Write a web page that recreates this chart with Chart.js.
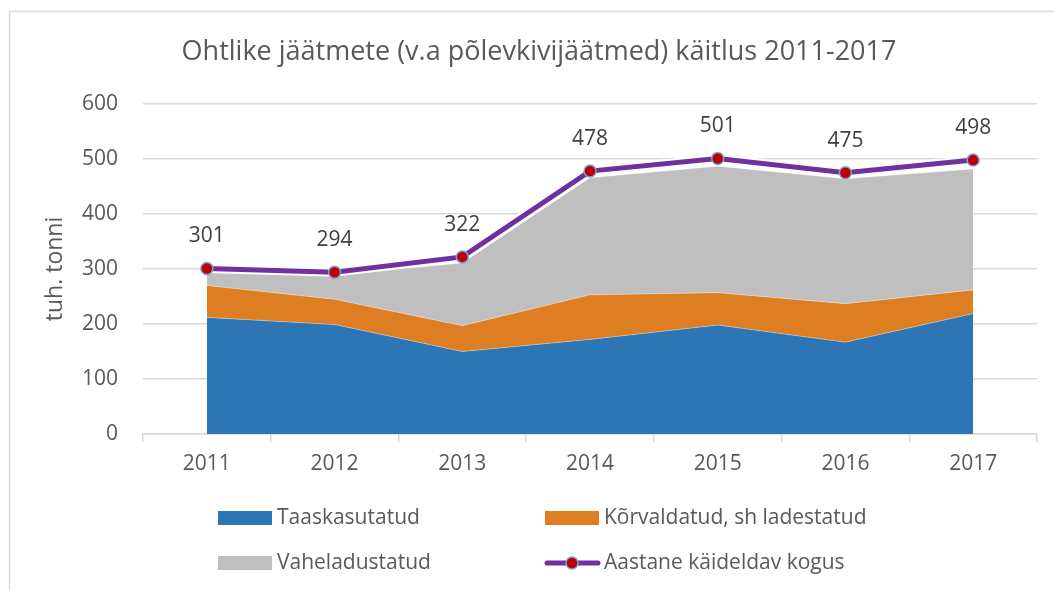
<!DOCTYPE html>
<html>
<head>
<meta charset="utf-8">
<script src="https://cdn.jsdelivr.net/npm/chart.js@4/dist/chart.umd.min.js"></script>
<style>
  html, body { margin: 0; padding: 0; background: #fff; }
  #wrap { width: 1054px; height: 590px; position: relative; }
</style>
</head>
<body>
<div id="wrap"><canvas id="c" width="1054" height="590"></canvas></div>
<script>
const years = ['2011', '2012', '2013', '2014', '2015', '2016', '2017'];
const taaskasutatud = [212, 199, 150, 172, 198, 167, 219];
const korvaldatud = [58, 46, 47, 81, 59, 70, 43];
const vaheladustatud = [24, 44, 114, 213, 230, 227, 220];
const aastaneKogus = [301, 294, 322, 478, 501, 475, 498];
const yTicks = [0, 100, 200, 300, 400, 500, 600];

const FONT = "'Open Sans', sans-serif";
const TXT = '#595959';

const borderPlugin = {
  id: 'outerBorder',
  beforeDraw(chart) {
    const ctx = chart.ctx;
    ctx.save();
    ctx.strokeStyle = '#D9D9D9';
    ctx.lineWidth = 1.5;
    ctx.strokeRect(9.5, 11.5, 2000, 2000);
    ctx.restore();
  }
};

const valueLabels = {
  id: 'valueLabels',
  afterDatasetsDraw(chart) {
    const ctx = chart.ctx;
    const meta = chart.getDatasetMeta(0);
    const data = chart.data.datasets[0].data;
    ctx.save();
    ctx.font = '21px ' + FONT;
    ctx.fillStyle = '#404040';
    ctx.textAlign = 'center';
    ctx.textBaseline = 'middle';
    meta.data.forEach((pt, i) => {
      ctx.fillText(String(data[i]), pt.x, pt.y - 32);
    });
    ctx.restore();
  }
};

const customLegend = {
  id: 'customLegend',
  afterDraw(chart) {
    const ctx = chart.ctx;
    const ds = chart.data.datasets;
    const items = [ds[2], ds[3], ds[4], ds[0]];
    const cols = [218, 545];
    const rows = [518, 563];
    ctx.save();
    ctx.font = '21px ' + FONT;
    ctx.textBaseline = 'middle';
    ctx.textAlign = 'left';
    items.forEach((d, i) => {
      const x = cols[i % 2];
      const y = rows[Math.floor(i / 2)];
      if (d.fill !== false) {
        ctx.fillStyle = d.backgroundColor;
        ctx.fillRect(x, y - 7, 54, 14);
      } else {
        ctx.strokeStyle = d.borderColor;
        ctx.lineWidth = 5;
        ctx.lineCap = 'round';
        ctx.beginPath();
        ctx.moveTo(x + 2, y);
        ctx.lineTo(x + 53, y);
        ctx.stroke();
        ctx.beginPath();
        ctx.arc(x + 27, y, 6, 0, Math.PI * 2);
        ctx.fillStyle = d.pointBackgroundColor;
        ctx.fill();
        ctx.lineWidth = 1.5;
        ctx.strokeStyle = d.pointBorderColor;
        ctx.stroke();
      }
      ctx.fillStyle = TXT;
      ctx.fillText(d.label, x + 59, y);
    });
    ctx.restore();
  }
};

new Chart(document.getElementById('c'), {
  type: 'line',
  data: {
    labels: years,
    datasets: [
      {
        label: 'Aastane käideldav kogus',
        data: aastaneKogus,
        stack: 'total',
        fill: false,
        borderColor: '#7030A0',
        borderWidth: 5,
        pointRadius: 6,
        pointBackgroundColor: '#C00000',
        pointBorderColor: '#6FA8DC',
        pointBorderWidth: 1.5,
        tension: 0,
        order: 0
      },
      {
        label: 'halo',
        data: aastaneKogus,
        stack: 'halo',
        fill: false,
        borderColor: '#FFFFFF',
        borderWidth: 9,
        pointRadius: 0,
        tension: 0,
        order: 1
      },
      {
        label: 'Taaskasutatud',
        data: taaskasutatud,
        stack: 'areas',
        fill: 'origin',
        backgroundColor: '#2E75B6',
        borderColor: 'rgba(255,255,255,0.35)',
        borderWidth: 1,
        pointRadius: 0,
        tension: 0,
        order: 2
      },
      {
        label: 'Kõrvaldatud, sh ladestatud',
        data: korvaldatud,
        stack: 'areas',
        fill: '-1',
        backgroundColor: '#DE7E22',
        borderColor: 'rgba(255,255,255,0.35)',
        borderWidth: 1,
        pointRadius: 0,
        tension: 0,
        order: 3
      },
      {
        label: 'Vaheladustatud',
        data: vaheladustatud,
        stack: 'areas',
        fill: '-1',
        backgroundColor: '#BFBFBF',
        borderColor: 'rgba(255,255,255,0.35)',
        borderWidth: 1,
        pointRadius: 0,
        tension: 0,
        order: 4
      }
    ]
  },
  options: {
    responsive: false,
    animation: false,
    layout: { padding: { top: 0, left: 41, right: 17, bottom: 0 } },
    plugins: {
      legend: { display: false },
      tooltip: { enabled: false },
      title: {
        display: true,
        text: 'Ohtlike jäätmete (v.a põlevkivijäätmed) käitlus 2011-2017',
        color: TXT,
        font: { family: FONT, size: 27, weight: 'normal', lineHeight: 1.2 },
        padding: { top: 36, bottom: 35.6 }
      }
    },
    scales: {
      x: {
        offset: true,
        grid: {
          offset: true,
          drawOnChartArea: false,
          drawTicks: true,
          tickLength: 8,
          color: '#D9D9D9',
          lineWidth: 1.5
        },
        border: { display: true, color: '#D9D9D9', width: 1.5 },
        ticks: { color: TXT, font: { family: FONT, size: 21 }, padding: 9 },
        afterFit(scale) { scale.height = 156; }
      },
      y: {
        stacked: true,
        min: 0,
        max: 600,
        afterBuildTicks(scale) { scale.ticks = yTicks.map(v => ({ value: v })); },
        grid: { color: '#D9D9D9', lineWidth: 1.5, drawTicks: false },
        border: { display: false },
        ticks: { color: TXT, font: { family: FONT, size: 21 }, padding: 25 },
        title: {
          display: true,
          text: 'tuh. tonni',
          color: TXT,
          font: { family: FONT, size: 23, weight: 'normal', lineHeight: 1.2 },
          padding: { top: 1, bottom: 0 }
        },
        afterFit(scale) { scale.width = 102; }
      }
    }
  },
  plugins: [borderPlugin, valueLabels, customLegend]
});
</script>
</body>
</html>
